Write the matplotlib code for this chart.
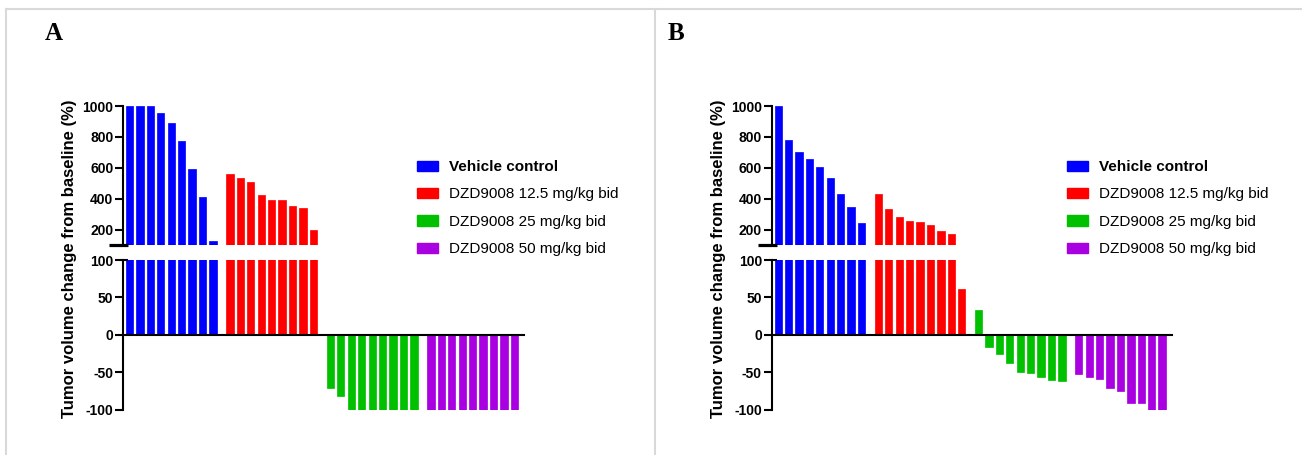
import matplotlib
matplotlib.use("Agg")
import matplotlib.pyplot as plt
from matplotlib.patches import Patch
from matplotlib.lines import Line2D
import numpy as np

plt.rcParams['font.family'] = ['Liberation Sans', 'DejaVu Sans']

# ---------------- data ----------------
groups = ["Vehicle control", "DZD9008 12.5 mg/kg bid",
          "DZD9008 25 mg/kg bid", "DZD9008 50 mg/kg bid"]
colors = ["#0000FF", "#FF0000", "#00C000", "#A800E0"]

vehicle_A = [1000, 1000, 1000, 952, 892, 773, 589, 410, 128]
low_A = [559, 531, 508, 424, 391, 391, 352, 339, 196]
mid_A = [-71, -82, -100, -100, -100, -100, -100, -100, -100]
high_A = [-100, -100, -100, -100, -100, -100, -100, -100, -100]

vehicle_B = [1000, 777, 701, 654, 604, 533, 433, 343, 245]
low_B = [433, 333, 284, 254, 249, 232, 193, 169, 61]
mid_B = [33, -16, -26, -38, -50, -51, -56, -60, -62]
high_B = [-52, -56, -59, -71, -75, -91, -91, -100, -100]

upper_ticks = [200, 400, 600, 800, 1000]
lower_ticks = [-100, -50, 0, 50, 100]
panel_letters = ["A", "B"]
ylabel = "Tumor volume change from baseline (%)"

W, H = 1302, 455
fig = plt.figure(figsize=(W / 100, H / 100), dpi=100)

# panel frame lines (light gray)
gray = "#d9d9d9"
fig.add_artist(Line2D([5.5 / W, 1], [1 - 8.5 / H, 1 - 8.5 / H], color=gray, lw=1.5))
fig.add_artist(Line2D([5.5 / W, 5.5 / W], [0, 1 - 8.5 / H], color=gray, lw=1.5))
fig.add_artist(Line2D([655 / W, 655 / W], [0, 1 - 8.5 / H], color=gray, lw=1.5))

GROUP_STEP = 9.62
BAR_W = 0.7
LW = 1.5


def panel(x_left_px, x_right_px, data, letter, letter_x_px, ylabel_x_px, legend_x_px):
    left = x_left_px / W
    width = (x_right_px - x_left_px) / W
    up_top, up_bot = 106, 245
    lo_top, lo_bot = 260, 409.5
    ax_up = fig.add_axes([left, 1 - up_bot / H, width, (up_bot - up_top) / H])
    ax_lo = fig.add_axes([left, 1 - lo_bot / H, width, (lo_bot - lo_top) / H])

    handles = []
    for g, (vals, col) in enumerate(zip(data, colors)):
        xs = g * GROUP_STEP + np.arange(len(vals))
        for ax in (ax_up, ax_lo):
            ax.bar(xs, vals, width=BAR_W, color=col, edgecolor=col, linewidth=0.5)
        handles.append(Patch(facecolor=col, edgecolor=col))

    xlim = (-0.62, 3 * GROUP_STEP + 8 + 0.92)
    for ax in (ax_up, ax_lo):
        ax.set_xlim(*xlim)
        ax.set_xticks([])
        for s in ("top", "right", "bottom"):
            ax.spines[s].set_visible(False)
        ax.spines["left"].set_linewidth(LW)
        ax.tick_params(axis="y", length=5.5, width=LW, labelsize=10, pad=1.5)
        ax.patch.set_alpha(0)

    ax_up.set_ylim(100, 1000)
    ax_up.set_yticks(upper_ticks)
    ax_up.set_yticklabels([str(v) for v in upper_ticks], fontweight="bold")
    ax_lo.set_ylim(-100, 100)
    ax_lo.set_yticks(lower_ticks)
    ax_lo.set_yticklabels([str(v) for v in lower_ticks], fontweight="bold")
    ax_lo.axhline(0, color="black", lw=LW, clip_on=False)

    # break marks across the spine
    ax_up.plot([-0.035, 0.012], [0, 0], transform=ax_up.transAxes, color="black",
               lw=LW + 0.8, clip_on=False, solid_capstyle="butt")
    ax_lo.plot([0, 0.012], [1, 1], transform=ax_lo.transAxes, color="black",
               lw=LW, clip_on=False, solid_capstyle="butt")

    fig.text(ylabel_x_px / W, 1 - 259 / H, ylabel, rotation=90, ha="center",
             va="center", fontsize=12, fontweight="bold")
    fig.text(letter_x_px / W, 1 - 33 / H, letter, ha="left", va="center",
             fontsize=18, fontweight="bold", family="Liberation Serif")

    leg = fig.legend(handles, groups, loc="upper left",
                     bbox_to_anchor=(legend_x_px / W, 1 - 160 / H),
                     frameon=False, fontsize=11, handlelength=1.37,
                     handleheight=0.65, handletextpad=0.72, labelspacing=0.88,
                     borderpad=0, borderaxespad=0)
    leg.get_texts()[0].set_fontweight("bold")


panel(123, 524, [vehicle_A, low_A, mid_A, high_A], panel_letters[0], 45, 70, 417)
panel(771.7, 1171.7, [vehicle_B, low_B, mid_B, high_B], panel_letters[1], 668, 718, 1067)

fig.savefig("out.png", dpi=100)
